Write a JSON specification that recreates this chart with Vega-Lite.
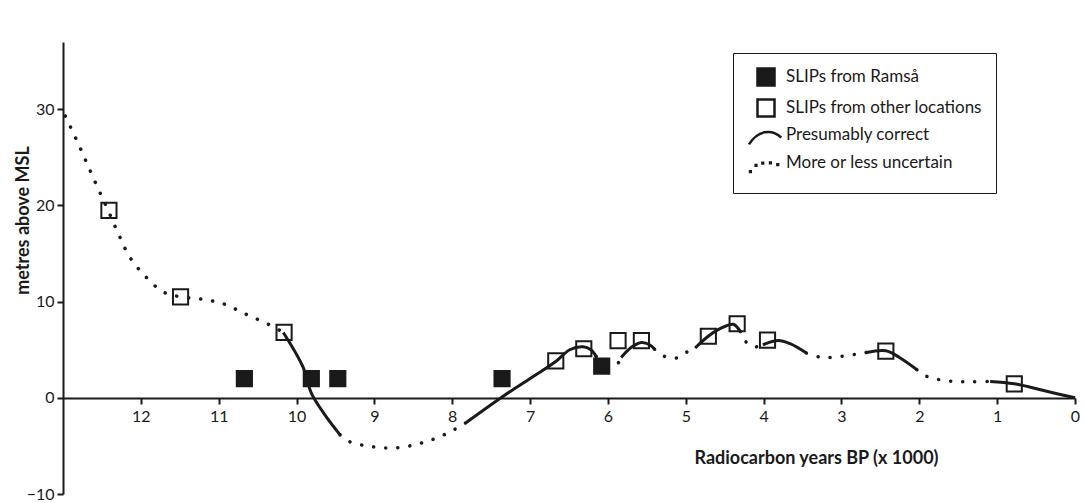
{
  "$schema": "https://vega.github.io/schema/vega-lite/v6.json",
  "width": 1012,
  "height": 452,
  "autosize": {"type": "none"},
  "padding": {"left": 63, "top": 42, "right": 9, "bottom": 9},
  "background": "white",
  "config": {
    "view": {"stroke": null},
    "font": "Lato",
    "axis": {
      "grid": false,
      "domainColor": "#1a1a1a",
      "domainWidth": 2,
      "tickColor": "#1a1a1a",
      "tickWidth": 2,
      "tickSize": 6,
      "labelFont": "Lato",
      "labelFontSize": 16,
      "labelColor": "#1a1a1a",
      "titleFont": "Lato",
      "titleFontSize": 18,
      "titleFontWeight": "bold",
      "titleColor": "#1a1a1a"
    }
  },
  "datasets": {
    "slips": [
      {"yr": 10.67, "m": 2.0, "kind": "SLIPs from Ramså"},
      {"yr": 9.81, "m": 2.0, "kind": "SLIPs from Ramså"},
      {"yr": 9.47, "m": 2.0, "kind": "SLIPs from Ramså"},
      {"yr": 7.36, "m": 2.0, "kind": "SLIPs from Ramså"},
      {"yr": 6.08, "m": 3.3, "kind": "SLIPs from Ramså"},
      {"yr": 12.41, "m": 19.5, "kind": "SLIPs from other locations"},
      {"yr": 11.49, "m": 10.5, "kind": "SLIPs from other locations"},
      {"yr": 10.16, "m": 6.8, "kind": "SLIPs from other locations"},
      {"yr": 6.67, "m": 3.85, "kind": "SLIPs from other locations"},
      {"yr": 6.31, "m": 5.1, "kind": "SLIPs from other locations"},
      {"yr": 5.87, "m": 5.95, "kind": "SLIPs from other locations"},
      {"yr": 5.57, "m": 5.95, "kind": "SLIPs from other locations"},
      {"yr": 4.71, "m": 6.4, "kind": "SLIPs from other locations"},
      {"yr": 4.34, "m": 7.7, "kind": "SLIPs from other locations"},
      {"yr": 3.95, "m": 6.0, "kind": "SLIPs from other locations"},
      {"yr": 2.43, "m": 4.85, "kind": "SLIPs from other locations"},
      {"yr": 0.78, "m": 1.45, "kind": "SLIPs from other locations"}
    ],
    "curve": [
      {"seg": "d1", "style": "dotted", "yr": 12.97, "m": 29.3},
      {"seg": "d1", "style": "dotted", "yr": 12.8, "m": 26.35},
      {"seg": "d1", "style": "dotted", "yr": 12.67, "m": 23.96},
      {"seg": "d1", "style": "dotted", "yr": 12.54, "m": 21.6},
      {"seg": "d1", "style": "dotted", "yr": 12.41, "m": 19.3},
      {"seg": "d1", "style": "dotted", "yr": 12.28, "m": 16.9},
      {"seg": "d1", "style": "dotted", "yr": 12.14, "m": 14.6},
      {"seg": "d1", "style": "dotted", "yr": 11.95, "m": 12.7},
      {"seg": "d1", "style": "dotted", "yr": 11.71, "m": 11.0},
      {"seg": "d1", "style": "dotted", "yr": 11.49, "m": 10.5},
      {"seg": "d1", "style": "dotted", "yr": 11.25, "m": 10.3},
      {"seg": "d1", "style": "dotted", "yr": 10.95, "m": 9.8},
      {"seg": "d1", "style": "dotted", "yr": 10.65, "m": 8.7},
      {"seg": "d1", "style": "dotted", "yr": 10.35, "m": 7.6},
      {"seg": "d1", "style": "dotted", "yr": 10.17, "m": 6.8},
      {"seg": "s1", "style": "solid", "yr": 10.17, "m": 6.8},
      {"seg": "s1", "style": "solid", "yr": 9.92, "m": 3.26},
      {"seg": "s1", "style": "solid", "yr": 9.81, "m": 0.49},
      {"seg": "s1", "style": "solid", "yr": 9.62, "m": -1.95},
      {"seg": "s1", "style": "solid", "yr": 9.44, "m": -3.85},
      {"seg": "d2", "style": "dotted", "yr": 9.44, "m": -3.85},
      {"seg": "d2", "style": "dotted", "yr": 9.32, "m": -4.55},
      {"seg": "d2", "style": "dotted", "yr": 9.01, "m": -5.1},
      {"seg": "d2", "style": "dotted", "yr": 8.7, "m": -5.18},
      {"seg": "d2", "style": "dotted", "yr": 8.39, "m": -4.69},
      {"seg": "d2", "style": "dotted", "yr": 8.08, "m": -3.75},
      {"seg": "d2", "style": "dotted", "yr": 7.82, "m": -2.57},
      {"seg": "s2", "style": "solid", "yr": 7.82, "m": -2.57},
      {"seg": "s2", "style": "solid", "yr": 7.35, "m": 0.14},
      {"seg": "s2", "style": "solid", "yr": 6.96, "m": 2.22},
      {"seg": "s2", "style": "solid", "yr": 6.67, "m": 3.78},
      {"seg": "s2", "style": "solid", "yr": 6.49, "m": 5.0},
      {"seg": "s2", "style": "solid", "yr": 6.32, "m": 5.3},
      {"seg": "s2", "style": "solid", "yr": 6.22, "m": 5.0},
      {"seg": "s2", "style": "solid", "yr": 6.15, "m": 4.3},
      {"seg": "d3", "style": "dotted", "yr": 6.15, "m": 4.3},
      {"seg": "d3", "style": "dotted", "yr": 6.02, "m": 3.75},
      {"seg": "d3", "style": "dotted", "yr": 5.88, "m": 3.55},
      {"seg": "d3", "style": "dotted", "yr": 5.83, "m": 4.2},
      {"seg": "s3", "style": "solid", "yr": 5.83, "m": 4.2},
      {"seg": "s3", "style": "solid", "yr": 5.69, "m": 5.3},
      {"seg": "s3", "style": "solid", "yr": 5.57, "m": 5.75},
      {"seg": "s3", "style": "solid", "yr": 5.46, "m": 5.5},
      {"seg": "s3", "style": "solid", "yr": 5.4, "m": 5.05},
      {"seg": "d4", "style": "dotted", "yr": 5.4, "m": 5.05},
      {"seg": "d4", "style": "dotted", "yr": 5.27, "m": 4.3},
      {"seg": "d4", "style": "dotted", "yr": 5.11, "m": 4.15},
      {"seg": "d4", "style": "dotted", "yr": 4.97, "m": 4.84},
      {"seg": "d4", "style": "dotted", "yr": 4.88, "m": 5.18},
      {"seg": "s4", "style": "solid", "yr": 4.88, "m": 5.18},
      {"seg": "s4", "style": "solid", "yr": 4.72, "m": 6.35},
      {"seg": "s4", "style": "solid", "yr": 4.56, "m": 7.19},
      {"seg": "s4", "style": "solid", "yr": 4.39, "m": 7.65},
      {"seg": "s4", "style": "solid", "yr": 4.3, "m": 6.9},
      {"seg": "d5", "style": "dotted", "yr": 4.3, "m": 6.9},
      {"seg": "d5", "style": "dotted", "yr": 4.25, "m": 6.04},
      {"seg": "d5", "style": "dotted", "yr": 4.13, "m": 5.28},
      {"seg": "d5", "style": "dotted", "yr": 4.01, "m": 5.52},
      {"seg": "s5", "style": "solid", "yr": 4.01, "m": 5.52},
      {"seg": "s5", "style": "solid", "yr": 3.81, "m": 5.97},
      {"seg": "s5", "style": "solid", "yr": 3.66, "m": 5.63},
      {"seg": "s5", "style": "solid", "yr": 3.45, "m": 4.66},
      {"seg": "d6", "style": "dotted", "yr": 3.45, "m": 4.66},
      {"seg": "d6", "style": "dotted", "yr": 3.28, "m": 4.24},
      {"seg": "d6", "style": "dotted", "yr": 3.11, "m": 4.2},
      {"seg": "d6", "style": "dotted", "yr": 2.94, "m": 4.38},
      {"seg": "d6", "style": "dotted", "yr": 2.78, "m": 4.58},
      {"seg": "d6", "style": "dotted", "yr": 2.68, "m": 4.72},
      {"seg": "s6", "style": "solid", "yr": 2.68, "m": 4.72},
      {"seg": "s6", "style": "solid", "yr": 2.43, "m": 4.9},
      {"seg": "s6", "style": "solid", "yr": 2.25, "m": 4.17},
      {"seg": "s6", "style": "solid", "yr": 2.03, "m": 2.92},
      {"seg": "d7", "style": "dotted", "yr": 2.03, "m": 2.92},
      {"seg": "d7", "style": "dotted", "yr": 1.95, "m": 2.4},
      {"seg": "d7", "style": "dotted", "yr": 1.8, "m": 1.98},
      {"seg": "d7", "style": "dotted", "yr": 1.64, "m": 1.77},
      {"seg": "d7", "style": "dotted", "yr": 1.48, "m": 1.67},
      {"seg": "d7", "style": "dotted", "yr": 1.32, "m": 1.67},
      {"seg": "d7", "style": "dotted", "yr": 1.09, "m": 1.7},
      {"seg": "s7", "style": "solid", "yr": 1.09, "m": 1.7},
      {"seg": "s7", "style": "solid", "yr": 0.78, "m": 1.46},
      {"seg": "s7", "style": "solid", "yr": 0.39, "m": 0.73},
      {"seg": "s7", "style": "solid", "yr": 0.0, "m": 0.0}
    ]
  },
  "encoding": {
    "x": {
      "field": "yr",
      "type": "quantitative",
      "scale": {"domain": [0, 13], "reverse": true, "nice": false, "zero": false},
      "axis": {
        "title": "Radiocarbon years BP (x 1000)",
        "values": [0, 1, 2, 3, 4, 5, 6, 7, 8, 9, 10, 11, 12],
        "format": "d",
        "offset": -96,
        "labelPadding": 4,
        "labelFlush": false,
        "labelOverlap": false,
        "titleX": 753,
        "titleY": 60,
        "titleAlign": "center",
        "titleBaseline": "middle"
      }
    },
    "y": {
      "field": "m",
      "type": "quantitative",
      "scale": {"domain": [-10, 37], "nice": false, "zero": false},
      "axis": {
        "title": "metres above MSL",
        "values": [-10, 0, 10, 20, 30],
        "labelPadding": 3,
        "titleX": -40,
        "titleY": 178,
        "titleAngle": -90,
        "titleAlign": "center",
        "titleBaseline": "middle"
      }
    }
  },
  "layer": [
    {
      "data": {"name": "curve"},
      "transform": [{"filter": "datum.style === 'dotted'"}],
      "mark": {
        "type": "line",
        "interpolate": "catmull-rom",
        "color": "#1a1a1a",
        "strokeWidth": 3.5,
        "strokeCap": "round",
        "strokeDash": [0.1, 12]
      },
      "encoding": {"detail": {"field": "seg", "type": "nominal"}}
    },
    {
      "data": {"name": "curve"},
      "transform": [{"filter": "datum.style === 'solid'"}],
      "mark": {
        "type": "line",
        "interpolate": "catmull-rom",
        "color": "#1a1a1a",
        "strokeWidth": 3
      },
      "encoding": {"detail": {"field": "seg", "type": "nominal"}}
    },
    {
      "data": {"name": "slips"},
      "mark": {"type": "point", "size": 230, "strokeWidth": 2, "opacity": 1},
      "encoding": {
        "shape": {
          "field": "kind",
          "type": "nominal",
          "scale": {
            "domain": ["SLIPs from Ramså", "SLIPs from other locations", "Presumably correct", "More or less uncertain"],
            "range": [
              "square",
              "square",
              "M-2,1.1 C-1,-0.5 0.6,-0.8 1.8,0.3",
              "M-2.02,0.82h0.38v0.38h-0.38Z M-1.36,0.1h0.38v0.38h-0.38Z M-0.57,-0.17h0.38v0.38h-0.38Z M0.33,-0.2h0.38v0.38h-0.38Z M1.19,0h0.38v0.38h-0.38Z"
            ]
          },
          "legend": {
            "title": null,
            "orient": "none",
            "legendX": 670,
            "legendY": 11,
            "strokeColor": "#1a1a1a",
            "padding": 14,
            "symbolOffset": 9,
            "symbolSize": 290,
            "symbolStrokeWidth": 2.5,
            "symbolOpacity": 1,
            "labelFont": "Lato",
            "labelFontSize": 17,
            "labelColor": "#1a1a1a",
            "labelOffset": 10,
            "rowPadding": 3,
            "labelLimit": 400
          }
        },
        "fill": {
          "field": "kind",
          "type": "nominal",
          "scale": {
            "domain": ["SLIPs from Ramså", "SLIPs from other locations", "Presumably correct", "More or less uncertain"],
            "range": ["#1a1a1a", "transparent", "transparent", "#1a1a1a"]
          }
        },
        "stroke": {
          "field": "kind",
          "type": "nominal",
          "scale": {
            "domain": ["SLIPs from Ramså", "SLIPs from other locations", "Presumably correct", "More or less uncertain"],
            "range": ["#1a1a1a", "#1a1a1a", "#1a1a1a", "transparent"]
          }
        }
      }
    }
  ]
}
